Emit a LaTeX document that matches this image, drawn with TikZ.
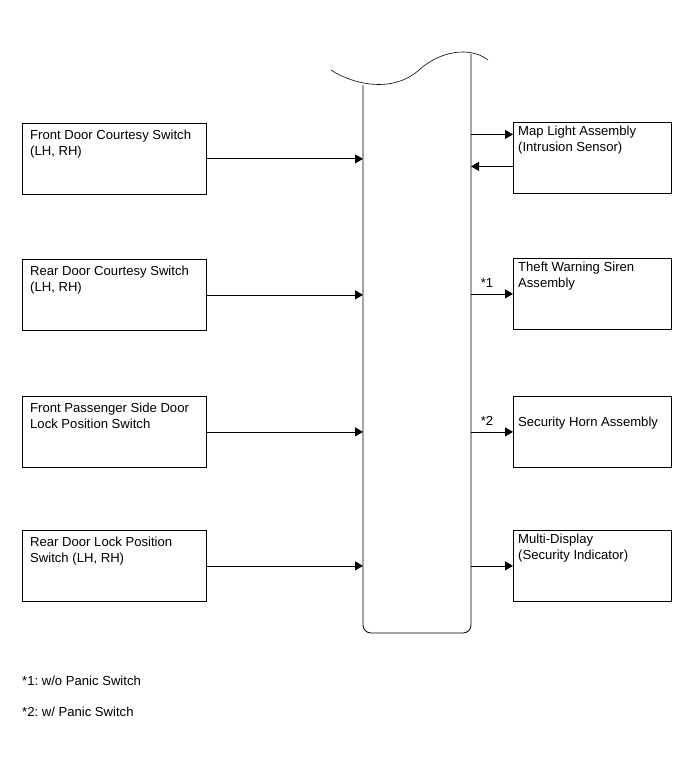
\documentclass[tikz,border=0pt]{standalone}
\usepackage{fontspec}
\setmainfont{Liberation Sans}
\usetikzlibrary{arrows.meta}
\frenchspacing
\begin{document}
\begin{tikzpicture}[x=1pt,y=-1pt,
  box/.style={draw,line width=0.8pt,minimum width=184pt,minimum height=71pt,inner sep=0pt,anchor=north west},
  rbox/.style={draw,line width=0.8pt,minimum width=158pt,minimum height=71pt,inner sep=0pt,anchor=north west},
  txt/.style={anchor=north west,align=left,inner sep=0pt,font=\fontsize{13.1pt}{16pt}\selectfont},
  arr/.style={line width=0.8pt,-{Triangle[length=8pt,width=9pt]}},
  lbl/.style={inner sep=0pt,font=\fontsize{13.1pt}{16pt}\selectfont}]
\useasboundingbox (0,0) rectangle (691,759);
% left boxes
\node[box] (b1) at (22,123) {};
\node[box] (b2) at (22,259) {};
\node[box] (b3) at (22,396) {};
\node[box] (b4) at (22,530) {};
\node[txt] (t1) at ([xshift=8pt,yshift=-7pt]b1.north west) {Front Door Courtesy Switch\\(LH, RH)};
\node[txt] (t2) at ([xshift=8pt,yshift=-7pt]b2.north west) {Rear Door Courtesy Switch\\(LH, RH)};
\node[txt] (t3) at ([xshift=8pt,yshift=-7pt]b3.north west) {Front Passenger Side Door\\Lock Position Switch};
\node[txt] (t4) at ([xshift=8pt,yshift=-7pt]b4.north west) {Rear Door Lock Position\\Switch (LH, RH)};
% right boxes
\node[rbox] (r1) at (513,122) {};
\node[rbox] (r2) at (513,258) {};
\node[rbox] (r3) at (513,396) {};
\node[rbox] (r4) at (513,530) {};
\node[txt] (u1) at ([xshift=5pt,yshift=-4pt]r1.north west) {Map Light Assembly\\(Intrusion Sensor)};
\node[txt] (u2) at ([xshift=5pt,yshift=-4pt]r2.north west) {Theft Warning Siren\\Assembly};
\node[txt] (u3) at ([xshift=5pt,yshift=-21pt]r3.north west) {Security Horn Assembly};
\node[txt] (u4) at ([xshift=5pt,yshift=-4pt]r4.north west) {Multi-Display\\(Security Indicator)};
% central column
\coordinate (cl) at (363,85);
\coordinate (cr) at (471,54);
\draw[line width=0.8pt,rounded corners=8pt] (cl) -- (363,633) -- (471,633) -- (cr);
\draw[line width=0.6pt] (331,70) .. controls (352,84) and (392,94) .. (419,70) .. controls (440,51) and (470,46) .. (488,60);
% left arrows
\draw[arr] (b1.east) -- (b1.east -| cl);
\draw[arr] (b2.east) -- (b2.east -| cl);
\draw[arr] (b3.east) -- (b3.east -| cl);
\draw[arr] (b4.east) -- (b4.east -| cl);
% right arrows
\coordinate (m1) at ([yshift=23.5pt]r1.west);
\coordinate (m2) at ([yshift=-8.5pt]r1.west);
\draw[arr] (m1 -| cr) -- (m1);
\draw[arr] (m2) -- (m2 -| cr);
\draw[arr] (r2.west -| cr) -- (r2.west);
\draw[arr] (r3.west -| cr) -- (r3.west);
\draw[arr] (r4.west -| cr) -- (r4.west);
\node[lbl] (s1) at (487,283) {*1};
\node[lbl] (s2) at (487,421) {*2};
% footnotes
\node[txt,anchor=west] (f1) at (22,681) {*1: w/o Panic Switch};
\node[txt,anchor=west] (f2) at (22,712) {*2: w/ Panic Switch};
\end{tikzpicture}
\end{document}
